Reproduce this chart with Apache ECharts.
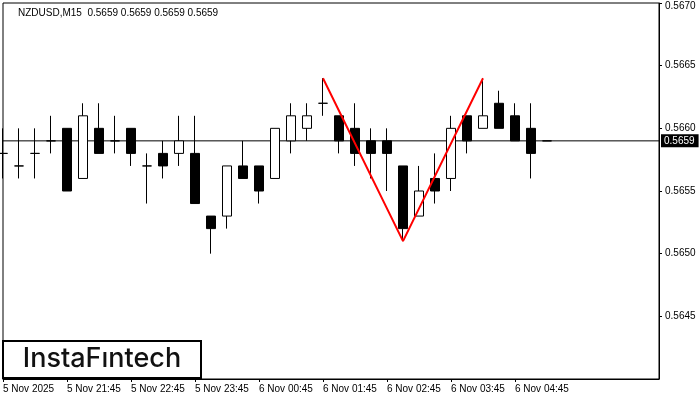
<!DOCTYPE html>
<html>
<head>
<meta charset="utf-8">
<script src="https://cdn.jsdelivr.net/npm/echarts@6/dist/echarts.min.js"></script>
<style>html,body{margin:0;padding:0;background:#fff;}#c{width:700px;height:400px;}</style>
</head>
<body>
<div id="c"></div>
<script>
// Bar slots (15-minute bars, plus empty future slots on the right)
const categories = [
  '5 Nov 20:45','5 Nov 21:00','5 Nov 21:15','5 Nov 21:30','5 Nov 21:45','5 Nov 22:00','5 Nov 22:15','5 Nov 22:30',
  '5 Nov 22:45','5 Nov 23:00','5 Nov 23:15','5 Nov 23:30','5 Nov 23:45','6 Nov 00:00','6 Nov 00:15','6 Nov 00:30',
  '6 Nov 00:45','6 Nov 01:00','6 Nov 01:15','6 Nov 01:30','6 Nov 01:45','6 Nov 02:00','6 Nov 02:15','6 Nov 02:30',
  '6 Nov 02:45','6 Nov 03:00','6 Nov 03:15','6 Nov 03:30','6 Nov 03:45','6 Nov 04:00','6 Nov 04:15','6 Nov 04:30',
  '6 Nov 04:45','6 Nov 05:00','6 Nov 05:15','6 Nov 05:30','6 Nov 05:45','6 Nov 06:00','6 Nov 06:15','6 Nov 06:30',
  '6 Nov 06:45','6 Nov 07:00'
];
const openP  = [0.5658,0.5657,0.5658,0.5659,0.5660,0.5656,0.5660,0.5659,0.5660,0.5657,0.5658,0.5658,0.5658,0.5653,0.5653,0.5657,0.5657,0.5656,0.5659,0.5660,0.5662,0.5661,0.5660,0.5659,0.5659,0.5657,0.5653,0.5656,0.5656,0.5661,0.5660,0.5662,0.5661,0.5660,0.5659];
const closeP = [0.5658,0.5657,0.5658,0.5659,0.5655,0.5661,0.5658,0.5659,0.5658,0.5657,0.5657,0.5659,0.5654,0.5652,0.5657,0.5656,0.5655,0.5660,0.5661,0.5661,0.5662,0.5659,0.5658,0.5658,0.5658,0.5652,0.5655,0.5655,0.5660,0.5659,0.5661,0.5660,0.5659,0.5658,0.5659];
const lowP   = [0.5656,0.5656,0.5656,0.5658,0.5655,0.5656,0.5658,0.5658,0.5657,0.5654,0.5656,0.5657,0.5654,0.5650,0.5652,0.5656,0.5654,0.5656,0.5658,0.5659,0.5661,0.5658,0.5657,0.5656,0.5655,0.5651,0.5653,0.5654,0.5655,0.5658,0.5660,0.5660,0.5659,0.5656,0.5659];
const highP  = [0.5660,0.5660,0.5660,0.5661,0.5660,0.5662,0.5662,0.5661,0.5660,0.5658,0.5659,0.5661,0.5661,0.5653,0.5657,0.5659,0.5657,0.5660,0.5662,0.5662,0.5664,0.5661,0.5662,0.5660,0.5660,0.5657,0.5657,0.5658,0.5661,0.5661,0.5664,0.5663,0.5662,0.5662,0.5659];
// Time-axis tick labels, one every 4 bars
const tickLabels = ['5 Nov 2025','5 Nov 21:45','5 Nov 22:45','5 Nov 23:45','6 Nov 00:45','6 Nov 01:45','6 Nov 02:45','6 Nov 03:45','6 Nov 04:45'];
// Double-bottom pattern line (bar index, price)
const patternIdx = [20, 25, 30];
const patternVal = [0.5664, 0.5651, 0.5664];
const currentPrice = 0.5659;
const titleText = 'NZDUSD,M15  0.5659 0.5659 0.5659 0.5659';

const candleData = openP.map((o, i) => [o, closeP[i], lowP[i], highP[i]]);
const patternData = patternIdx.map((ix, i) => [categories[ix], patternVal[i]]);
const priceLineData = [[categories[0], currentPrice], [categories[categories.length - 1], currentPrice]];

const chart = echarts.init(document.getElementById('c'), null, {renderer: 'canvas'});
const FONT = '"Liberation Sans", Arial, sans-serif';
chart.setOption({
  animation: false,
  backgroundColor: '#fff',
  grid: {left: 3, right: 41, top: 3, bottom: 21, show: true, borderColor: '#000', borderWidth: 1, backgroundColor: '#fff'},
  xAxis: {
    type: 'category',
    data: categories,
    boundaryGap: false,
    axisLine: {show: true, lineStyle: {color: '#000', width: 1}},
    axisTick: {show: true, length: 3, lineStyle: {color: '#000'}, interval: (i) => i % 4 === 0 && i / 4 < tickLabels.length},
    axisLabel: {
      interval: 0, align: 'left', margin: 5, color: '#000', fontSize: 10, fontFamily: FONT,
      formatter: (v, i) => (i % 4 === 0 && i / 4 < tickLabels.length) ? tickLabels[i / 4] : ''
    },
    splitLine: {show: false}
  },
  yAxis: {
    type: 'value', position: 'right', min: 0.5640, max: 0.5670, interval: 0.0005,
    axisLine: {show: true, lineStyle: {color: '#000'}},
    axisTick: {show: true, length: 3, lineStyle: {color: '#000'}},
    axisLabel: {
      showMinLabel: false, margin: 6, color: '#000', fontSize: 10, fontFamily: FONT,
      formatter: (v) => v >= 0.56699 ? '{top|' + v.toFixed(4) + '}' : v.toFixed(4),
      rich: {top: {padding: [7, 0, 0, 0], fontSize: 10, fontFamily: FONT, color: '#000'}}
    },
    splitLine: {show: false}
  },
  series: [
    {
      type: 'line',
      data: priceLineData,
      symbol: 'none',
      silent: true,
      clip: false,
      lineStyle: {color: '#000', width: 1},
      endLabel: {
        show: true, distance: 2, formatter: () => currentPrice.toFixed(4),
        color: '#fff', backgroundColor: '#000', padding: [2, 4, 1, 3], fontSize: 10, fontFamily: FONT
      },
      z: 1
    },
    {
      type: 'candlestick',
      data: candleData,
      barWidth: 10,
      clip: true,
      itemStyle: {color: '#fff', color0: '#000', borderColor: '#000', borderColor0: '#000', borderWidth: 1},
      z: 2
    },
    {
      type: 'line',
      data: patternData,
      symbol: 'none',
      lineStyle: {color: '#ff0000', width: 2},
      z: 5
    }
  ],
  graphic: [
    {type: 'text', left: 18, top: 8, z: 10, style: {text: titleText, fill: '#000', font: '10px ' + FONT}},
    {type: 'rect', shape: {x: 3, y: 341, width: 198, height: 37}, style: {fill: '#fff', stroke: '#000', lineWidth: 2}, z: 10},
    {type: 'text', x: 102, y: 359, z: 11, style: {text: 'InstaF\u0131ntech', fill: '#111', font: '500 27px Inter, "Noto Sans", sans-serif', textAlign: 'center', textVerticalAlign: 'middle'}}
  ]
});
</script>
</body>
</html>
